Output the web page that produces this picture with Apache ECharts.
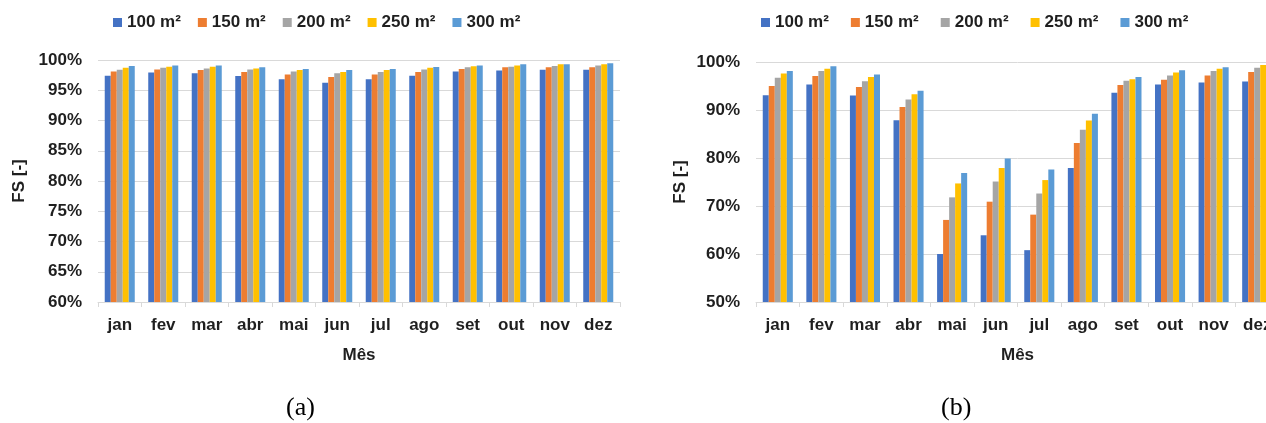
<!DOCTYPE html>
<html>
<head>
<meta charset="utf-8">
<script src="https://cdn.jsdelivr.net/npm/echarts@6/dist/echarts.min.js"></script>
<style>
  html, body { margin: 0; padding: 0; background: #ffffff; overflow: hidden; }
  #wrap { width: 1266px; height: 423px; overflow: hidden; }
  #chart { width: 1282px; height: 423px; }
</style>
</head>
<body>
<div id="wrap"><div id="chart"></div></div>
<script>
// Months and collector-area series
const months = ['jan', 'fev', 'mar', 'abr', 'mai', 'jun', 'jul', 'ago', 'set', 'out', 'nov', 'dez'];
const areas = ['100 m²', '150 m²', '200 m²', '250 m²', '300 m²'];

// Solar fraction FS (%) — panel (a)
const fsA100 = [97.4, 97.95, 97.8, 97.35, 96.8, 96.25, 96.8, 97.4, 98.1, 98.25, 98.4, 98.4];
const fsA150 = [98.1, 98.45, 98.35, 98.0, 97.6, 97.2, 97.6, 98.0, 98.5, 98.8, 98.8, 98.8];
const fsA200 = [98.4, 98.7, 98.6, 98.45, 98.1, 97.8, 98.0, 98.45, 98.8, 98.9, 99.0, 99.1];
const fsA250 = [98.7, 98.9, 98.9, 98.6, 98.35, 98.0, 98.35, 98.7, 98.95, 99.1, 99.3, 99.3];
const fsA300 = [99.0, 99.1, 99.1, 98.8, 98.5, 98.35, 98.5, 98.85, 99.1, 99.3, 99.3, 99.45];

// Solar fraction FS (%) — panel (b)
const fsB100 = [93.05, 95.3, 93.0, 87.85, 60.0, 63.9, 60.8, 77.9, 93.6, 95.3, 95.75, 95.95];
const fsB150 = [95.0, 97.1, 94.8, 90.6, 67.1, 70.9, 68.2, 83.1, 95.2, 96.3, 97.2, 97.9];
const fsB200 = [96.7, 98.1, 96.0, 92.2, 71.8, 75.1, 72.6, 85.9, 96.1, 97.2, 98.1, 98.8];
const fsB250 = [97.6, 98.6, 96.9, 93.3, 74.7, 77.9, 75.4, 87.8, 96.4, 97.8, 98.6, 99.4];
const fsB300 = [98.1, 99.1, 97.4, 94.0, 76.9, 79.9, 77.6, 89.2, 96.9, 98.3, 98.9, 99.6];

// Y-axis ranges
const yA = { min: 60, max: 100, step: 5 };
const yB = { min: 50, max: 100, step: 10 };

const colors = ['#4472C4', '#ED7D31', '#A5A5A5', '#FFC000', '#5B9BD5'];
const textColor = '#1f1f1f';
const gridColor = '#d9d9d9';
const font = 'Liberation Sans, Arial, sans-serif';

const seriesA = [fsA100, fsA150, fsA200, fsA250, fsA300];
const seriesB = [fsB100, fsB150, fsB200, fsB250, fsB300];

function xAxisFor(gridIndex) {
  return {
    type: 'category',
    gridIndex: gridIndex,
    data: months,
    name: 'Mês',
    nameLocation: 'middle',
    nameGap: 45,
    nameTextStyle: { color: textColor, fontWeight: 'bold', fontSize: 17, fontFamily: font },
    axisLine: { show: true, lineStyle: { color: gridColor, width: 1 } },
    axisTick: { show: true, length: 5, lineStyle: { color: gridColor } },
    axisLabel: { color: textColor, fontWeight: 'bold', fontSize: 17, fontFamily: font, margin: 15, interval: 0 },
    splitLine: { show: false }
  };
}

function yAxisFor(gridIndex, range, gap) {
  return {
    type: 'value',
    gridIndex: gridIndex,
    min: range.min,
    max: range.max,
    interval: range.step,
    name: 'FS [-]',
    nameLocation: 'middle',
    nameGap: gap,
    nameTextStyle: { color: textColor, fontWeight: 'bold', fontSize: 17, fontFamily: font },
    axisLine: { show: false },
    axisTick: { show: false },
    axisLabel: { color: textColor, fontWeight: 'bold', fontSize: 17, fontFamily: font, margin: 16, formatter: '{value}%' },
    splitLine: { show: true, lineStyle: { color: gridColor, width: 1 } }
  };
}

function barSeries(list, axisIndex) {
  return list.map((values, i) => ({
    name: areas[i],
    type: 'bar',
    xAxisIndex: axisIndex,
    yAxisIndex: axisIndex,
    data: values,
    barGap: '0%',
    barCategoryGap: '31%',
    itemStyle: { color: colors[i] },
    emphasis: { disabled: true }
  }));
}

function legendAt(left, gap) {
  return {
    left: left,
    top: 9,
    data: areas,
    icon: 'rect',
    itemWidth: 9,
    itemHeight: 9,
    itemGap: gap,
    selectedMode: false,
    textStyle: { color: textColor, fontWeight: 'bold', fontSize: 17, fontFamily: font }
  };
}

const chart = echarts.init(document.getElementById('chart'), null, { renderer: 'canvas' });
chart.setOption({
  animation: false,
  color: colors,
  legend: [legendAt(108, 17), legendAt(756, 22)],
  grid: [
    { left: 98, top: 60, width: 522, height: 242 },
    { left: 756, top: 62, width: 523, height: 240 }
  ],
  xAxis: [xAxisFor(0), xAxisFor(1)],
  yAxis: [yAxisFor(0, yA, 70), yAxisFor(1, yB, 67)],
  series: barSeries(seriesA, 0).concat(barSeries(seriesB, 1)),
  graphic: [
    { type: 'text', left: 286, top: 395, style: { text: '(a)', fontSize: 26, fontFamily: 'Liberation Serif, Times New Roman, serif', fill: '#000' } },
    { type: 'text', left: 941, top: 395, style: { text: '(b)', fontSize: 26, fontFamily: 'Liberation Serif, Times New Roman, serif', fill: '#000' } }
  ]
});
</script>
</body>
</html>
